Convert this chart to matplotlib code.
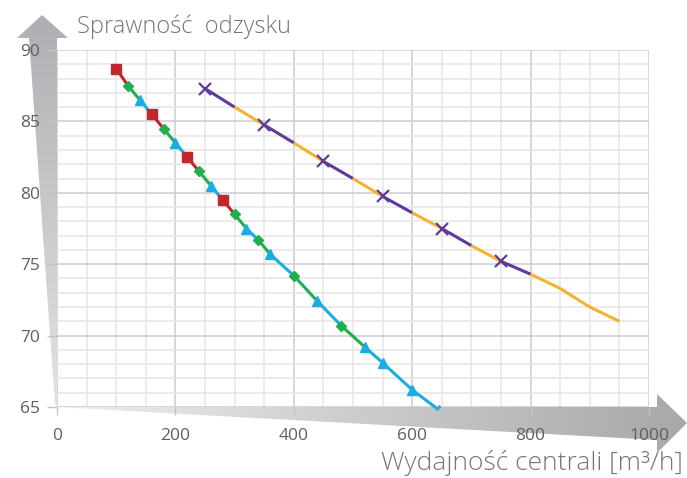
import matplotlib

matplotlib.use("Agg")
import matplotlib.pyplot as plt
import numpy as np
import pandas as pd
from matplotlib.colors import LinearSegmentedColormap
from matplotlib.patches import Polygon

W, H = 687, 478

# ---- data ----
red_x = [100, 160, 220, 280]
red_y = [88.7, 85.5, 82.5, 79.5]
green_x = [120, 180, 240, 300, 340, 400, 480]
green_y = [87.5, 84.5, 81.5, 78.5, 76.7, 74.2, 70.7]
cyan_x = [140, 200, 260, 320, 360, 440, 520, 550, 600, 645]
cyan_y = [86.5, 83.5, 80.5, 77.5, 75.7, 72.4, 69.2, 68.1, 66.2, 64.8]
purple_x = [250, 350, 450, 550, 650, 750]
purple_y = [87.3, 84.75, 82.2, 79.75, 77.5, 75.2]
orange_x = [300, 400, 500, 600, 700, 800, 850, 900, 950]
orange_y = [86.0, 83.5, 81.0, 78.6, 76.3, 74.3, 73.3, 72.0, 71.0]

y_ticks = [65, 70, 75, 80, 85, 90]
x_ticks = [0, 200, 400, 600, 800, 1000]

RED = "#c1272d"
GREEN = "#21ae4f"
CYAN = "#1aade4"
PURPLE = "#5e3b96"
ORANGE = "#f6b22f"
LABEL = "#5f5f5f"
TITLE = "#767676"

plt.rcParams["font.family"] = ["Open Sans", "DejaVu Sans"]

fig = plt.figure(figsize=(W / 100, H / 100), dpi=100)
fig.patch.set_facecolor("white")

# ---- background: the two tapered gray arrows, in pixel coordinates ----
bg = fig.add_axes([0, 0, 1, 1], zorder=0)
bg.set_xlim(0, W)
bg.set_ylim(H, 0)
bg.axis("off")

ycmap = LinearSegmentedColormap.from_list("yarr", ["#adafb2", "#e2e3e4"])
xcmap = LinearSegmentedColormap.from_list("xarr", ["#eeeeee", "#a8a8a8"])

yarrow = Polygon([(42, 15), (68, 38), (57, 38), (57, 405), (55, 405),
                  (29, 38), (17, 38)], closed=True, facecolor="none",
                 edgecolor="none")
bg.add_patch(yarrow)
img = bg.imshow(np.linspace(0, 1, 256).reshape(-1, 1), cmap=ycmap,
                extent=(15, 70, 406, 14), aspect="auto", interpolation="bilinear")
img.set_clip_path(yarrow)

xarrow = Polygon([(55, 407), (657, 407), (657, 394), (687, 423),
                  (657, 453), (657, 440)], closed=True, facecolor="none",
                 edgecolor="none")
bg.add_patch(xarrow)
img = bg.imshow(np.linspace(0, 1, 256).reshape(1, -1), cmap=xcmap,
                extent=(54, 687, 455, 392), aspect="auto", interpolation="bilinear")
img.set_clip_path(xarrow)
bg.set_xlim(0, W)
bg.set_ylim(H, 0)

# ---- main chart ----
ax = fig.add_axes([57 / W, 1 - 407 / H, (649 - 57) / W, (407 - 50) / H], zorder=1)
ax.set_facecolor("none")
ax.set_xlim(0, 1000)
ax.set_ylim(65, 90)

for x in np.arange(0, 1001, 50):
    ax.axvline(x, color="#cdcdcd" if x % 200 == 0 else "#e6e6e6", lw=1.1, zorder=1)
for y in np.arange(65, 91, 1):
    ax.axhline(y, color="#cdcdcd" if y % 5 == 0 else "#e6e6e6", lw=1.1, zorder=1)

for s in ax.spines.values():
    s.set_visible(False)

ax.set_xticks(x_ticks)
ax.set_yticks(y_ticks)
ax.tick_params(axis="y", direction="out", length=7, width=1, color="#c4c4c4",
               labelsize=12.5, labelcolor=LABEL, pad=5)
ax.tick_params(axis="x", direction="out", length=6, width=1, color="#c4c4c4",
               labelsize=12.5, labelcolor=LABEL, pad=9)

groups = [
    [("red", red_x, red_y, RED, "s", 7.5),
     ("green", green_x, green_y, GREEN, "D", 5.5),
     ("cyan", cyan_x, cyan_y, CYAN, "^", 7.5)],
    [("purple", purple_x, purple_y, PURPLE, "x", 8),
     ("orange", orange_x, orange_y, ORANGE, None, 0)],
]

for group in groups:
    df = pd.concat([pd.DataFrame({"x": gx, "y": gy, "color": c})
                    for _, gx, gy, c, _, _ in group]).sort_values("x")
    pts = df.to_numpy()
    # each stretch of the curve takes the colour of the point it starts from
    for (x0, y0, c), (x1, y1, _) in zip(pts[:-1], pts[1:]):
        ax.plot([x0, x1], [y0, y1], color=c, lw=2.2, solid_capstyle="butt",
                zorder=3, clip_on=False)
    for name, gx, gy, c, m, ms in group:
        if m is None:
            continue
        if m == "x":
            ax.plot(gx, gy, ls="none", marker=m, ms=ms, mew=1.6, color=c, zorder=4)
        else:
            ax.plot(gx, gy, ls="none", marker=m, ms=ms, color=c, mec=c, zorder=4)

fig.text(77 / W, 1 - 33 / H, "Sprawność  odzysku", fontsize=17, color=TITLE,
         ha="left", va="baseline", fontweight="light")
fig.text(683 / W, 1 - 470 / H, "Wydajność centrali [m³/h]", fontsize=19,
         color=TITLE, ha="right", va="baseline", fontweight="light")

fig.savefig("out.png", dpi=100, facecolor="white")
